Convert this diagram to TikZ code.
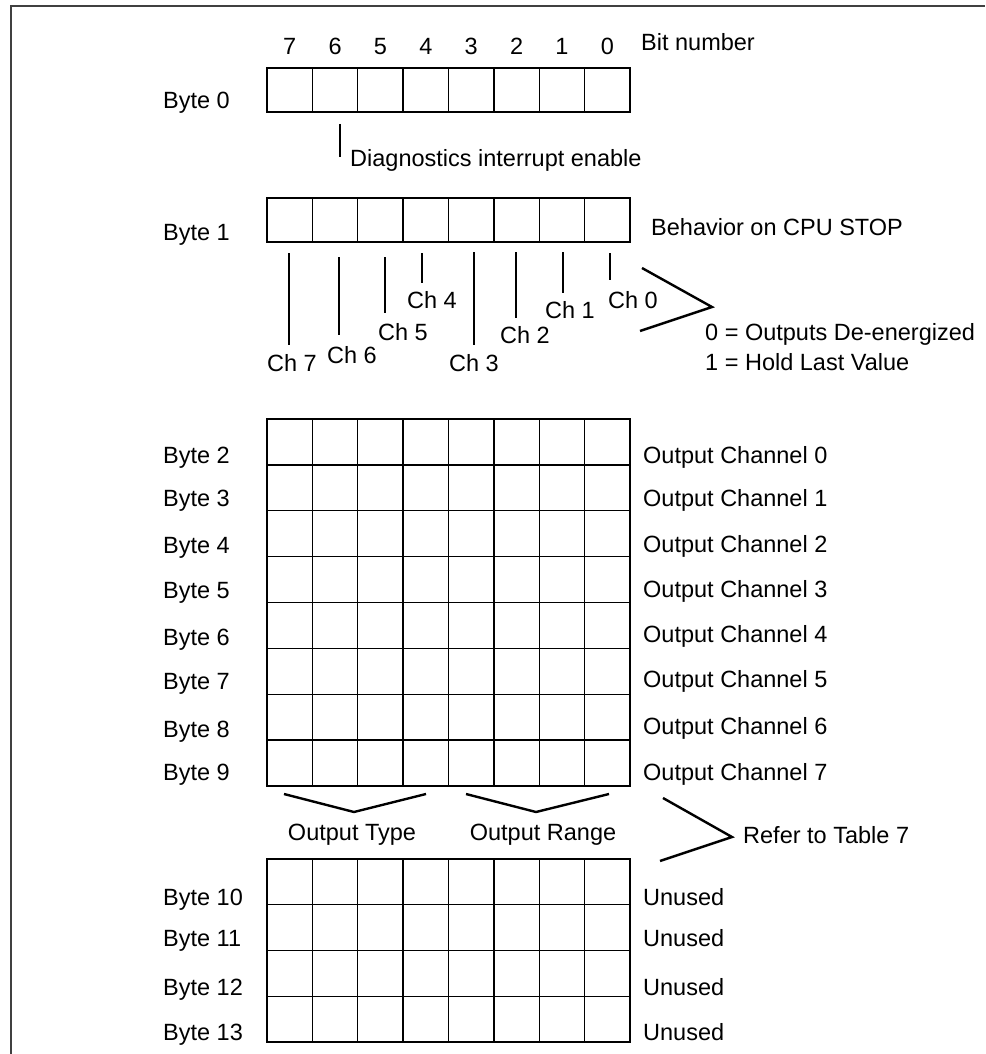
\documentclass[tikz,border=0pt]{standalone}
\usepackage{fontspec}
\setmainfont{Liberation Sans}
\definecolor{framegray}{HTML}{404040}
\begin{document}
\begin{tikzpicture}[x=1pt,y=-1pt,
  txt/.style={inner sep=0pt, font=\fontsize{23.5}{28}\selectfont},
  lbl/.style={txt, anchor=base west},
  lblc/.style={txt, anchor=base},
  cell/.style={line width=1.4pt, line cap=rect},
  tick/.style={line width=1.8pt},
  thin/.style={line width=1.2pt},
  brace/.style={line width=2.4pt, line join=miter},
  frame/.style={line width=2pt, draw=framegray}]
\useasboundingbox (0,0) rectangle (985,1054);
% frame
\coordinate (fb) at (11,1054);
\coordinate (fc) at (11,6);
\coordinate (fr) at (985,6);
\draw[frame] (fb) -- (fc) -- (fr);

% register blocks: top, rows, row height
\foreach \name/\top/\rows/\h in {b0/68/1/44, b1/198/1/44, bm/419/8/45.875, bl/859/4/45.75}{
  \pgfmathsetmacro{\bot}{\top+\rows*\h}
  \draw[cell] (267,\top) rectangle (630,\bot);
  \foreach \i in {1,...,7}
    \draw[cell] ({267+\i*45.375},\top) -- ({267+\i*45.375},\bot);
  \ifnum\rows>1
    \pgfmathtruncatemacro{\rm}{\rows-1}
    \foreach \j in {1,...,\rm}
      \draw[cell] (267,{\top+\j*\h}) -- (630,{\top+\j*\h});
  \fi
}

% bit numbers
\foreach \b [count=\k from 0] in {7,6,5,4,3,2,1,0}
  \node[lblc] (bit\b) at ({289.7+\k*45.375},54.5) {\b};
\node[lbl] (bitnum) at (641,50.5) {Bit number};

% byte 0 / byte 1
\node[lbl] (byte0) at (163,108.5) {Byte 0};
\coordinate (dg1) at (340,124);
\coordinate (dg2) at (340,157);
\draw[thin] (dg1) -- (dg2);
\node[lbl] (diag) at (350,166.5) {Diagnostics interrupt enable};
\node[lbl] (byte1) at (163,240.5) {Byte 1};
\node[lbl] (behav) at (651,235.5) {Behavior on CPU STOP};

% channel ticks and labels
\foreach \c/\x/\ya/\yb/\lx/\ly in {7/289/253/345/292/371.5, 6/339/257/335/352/363.5,
    5/385/257/313/403/340.5, 4/422/253/283/432/308.5, 3/474/252/345/474/371.5,
    2/516/252/318/525/343.5, 1/563/252/293/570/318.5, 0/610/253/280/633/308.5}{
  \coordinate (ct\c) at (\x,\ya);
  \coordinate (cb\c) at (\x,\yb);
  \draw[tick] (ct\c) -- (cb\c);
  \node[lblc] (ch\c) at (\lx,\ly) {Ch \c};
}
\coordinate (br1a) at (642,268);
\coordinate (br1t) at (712,307);
\coordinate (br1b) at (640,331);
\draw[brace] (br1a) -- (br1t) -- (br1b);
\node[lbl] (val0) at (705,340.5) {0 = Outputs De-energized};
\node[lbl] (val1) at (705,370.5) {1 = Hold Last Value};

% bytes 2..9
\foreach \n/\yb/\yc in {2/455/455, 3/498/498, 4/545/544, 5/590/589,
    6/637/634, 7/681/679, 8/729/726, 9/772/772}{
  \pgfmathtruncatemacro{\m}{\n-2}
  \node[lbl] (byte\n) at (163,\yb+8.5) {Byte \n};
  \node[lbl] (och\m) at (643,\yc+8.5) {Output Channel \m};
}

% output type / range braces
\coordinate (ota) at (284,794);
\coordinate (ott) at (354,812);
\coordinate (otb) at (426,794);
\draw[brace] (ota) -- (ott) -- (otb);
\coordinate (ora) at (466,794);
\coordinate (ort) at (536,812);
\coordinate (orb) at (609,794);
\draw[brace] (ora) -- (ort) -- (orb);
\node[lblc] (otype) at (352,840.5) {Output Type};
\node[lblc] (orange) at (543,840.5) {Output Range};
\coordinate (rfa) at (663,798);
\coordinate (rft) at (732,837);
\coordinate (rfb) at (660,861);
\draw[brace] (rfa) -- (rft) -- (rfb);
\node[lbl] (refer) at (743,843.5) {Refer to Table 7};

% bytes 10..13
\foreach \n/\yc in {10/897, 11/938, 12/987, 13/1032}{
  \node[lbl] (byte\n) at (163,\yc+8.5) {Byte \n};
  \node[lbl] (unused\n) at (643,\yc+8.5) {Unused};
}
\end{tikzpicture}
\end{document}
